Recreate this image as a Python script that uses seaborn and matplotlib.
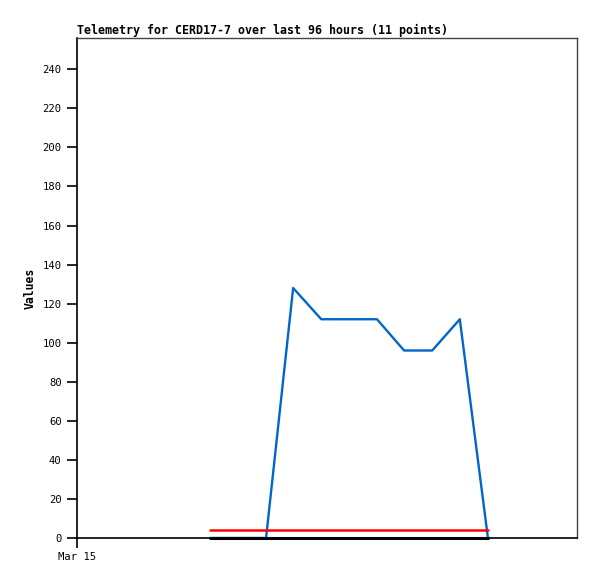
import matplotlib
matplotlib.use("Agg")
import matplotlib.pyplot as plt
import numpy as np
import pandas as pd
import seaborn as sns

# hours since start of the 96 hour window
hours = [25.5, 30.9, 36.3, 41.5, 46.9, 52.2, 57.6, 62.8, 68.2, 73.5, 78.9]
values = [0, 0, 0, 128, 112, 112, 112, 96, 96, 112, 0]
threshold_red = 4
threshold_black = 0
x_tick_hours = [0]
x_tick_labels = ["Mar 15"]
y_ticks = list(range(0, 241, 20))

df = pd.DataFrame({"hour": hours, "value": values})

sns.set_style("white")
plt.rcParams["font.family"] = ["DejaVu Sans Mono"]
plt.rcParams["text.color"] = "black"

fig = plt.figure(figsize=(5.97, 5.79), dpi=100)
ax = fig.add_axes([77 / 597, 41 / 579, 500 / 597, 500 / 579])

sns.lineplot(data=df, x="hour", y="value", ax=ax, color="#0066cc", lw=1.7, zorder=4)
ax.plot([hours[0], hours[-1]], [threshold_red, threshold_red], color="#ff0000", lw=1.8, zorder=5)
ax.plot([hours[0], hours[-1]], [threshold_black, threshold_black], color="black",
        lw=2.2, zorder=6, clip_on=False)

ax.set_xlim(0, 96)
ax.set_ylim(0, 256)
ax.set_xticks(x_tick_hours)
ax.set_xticklabels(x_tick_labels)
ax.set_yticks(y_ticks)
ax.xaxis.set_ticks_position("bottom")
ax.yaxis.set_ticks_position("left")
ax.tick_params(axis="both", direction="out", length=7, width=1.2, labelsize=7.6,
               colors="black", pad=4)
ax.tick_params(axis="x", pad=3)
ax.set_xlabel("")
ax.set_ylabel("Values", fontsize=8.3, fontweight="bold", labelpad=4, color="black")
ax.set_title("Telemetry for CERD17-7 over last 96 hours (11 points)",
             loc="left", fontsize=8.4, fontweight="bold", pad=3, color="black")

for side in ["top", "right"]:
    ax.spines[side].set_color("#444444")
    ax.spines[side].set_linewidth(1)
for side in ["left", "bottom"]:
    ax.spines[side].set_color("black")
    ax.spines[side].set_linewidth(1.2)

fig.savefig("out.png", dpi=100)
